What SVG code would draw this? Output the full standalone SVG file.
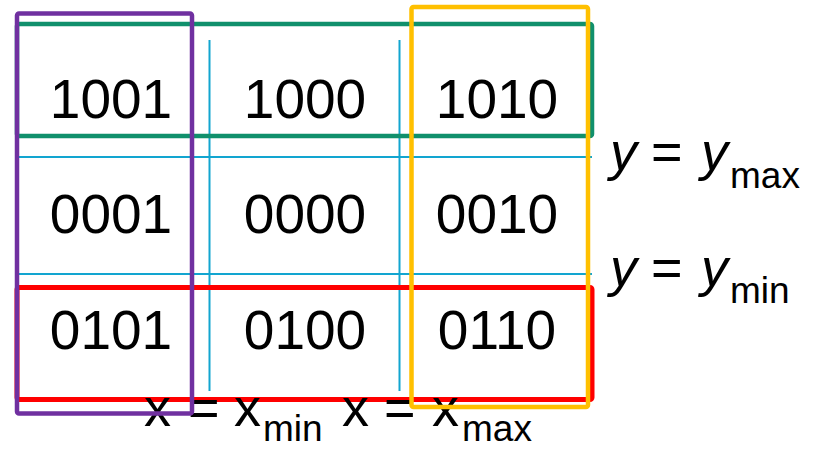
<svg xmlns="http://www.w3.org/2000/svg" width="817" height="449" viewBox="0 0 817 449">
<style>
.code{font-family:"Liberation Sans",Arial,sans-serif;font-size:55px;fill:#000;text-anchor:middle}
.lbl{font-family:"Liberation Sans",Arial,sans-serif;font-size:54px;fill:#000}
.sub{font-size:37px}
.it{font-style:italic}
.grid{stroke:#12a5d0;stroke-width:2;fill:none}
.box{fill:none;stroke-linejoin:round}
</style>
<rect width="817" height="449" fill="#fff"/>
<g id="grid-lines" class="grid">
<line x1="17" y1="157" x2="592" y2="157"/>
<line x1="17" y1="274" x2="592" y2="274"/>
<line x1="209.5" y1="40" x2="209.5" y2="391"/>
<line x1="399.5" y1="40" x2="399.5" y2="391"/>
</g>
<g id="region-top">
<rect class="box" x="17" y="24" width="575" height="112" rx="2" stroke="#10906c" stroke-width="4.5"/>
</g>
<g id="region-bottom">
<rect class="box" x="17" y="287.5" width="575" height="112" rx="2" stroke="#ff0000" stroke-width="5"/>
</g>
<g id="cell-1001"><text class="code" x="111" y="118">1001</text></g>
<g id="cell-1000"><text class="code" x="305" y="118">1000</text></g>
<g id="cell-1010"><text class="code" x="497" y="118">1010</text></g>
<g id="cell-0001"><text class="code" x="111" y="233">0001</text></g>
<g id="cell-0000"><text class="code" x="305" y="233">0000</text></g>
<g id="cell-0010"><text class="code" x="497" y="233">0010</text></g>
<g id="cell-0101"><text class="code" x="111" y="349">0101</text></g>
<g id="cell-0100"><text class="code" x="305" y="349">0100</text></g>
<g id="cell-0110"><text class="code" x="497" y="349">0110</text></g>
<g id="label-ymax">
<text class="lbl"><tspan class="it" x="610" y="170">y</tspan><tspan x="651" y="170">=</tspan><tspan class="it" x="701" y="170">y</tspan><tspan class="sub" x="730" y="188">max</tspan></text>
</g>
<g id="label-ymin">
<text class="lbl"><tspan class="it" x="610" y="286">y</tspan><tspan x="651" y="286">=</tspan><tspan class="it" x="701" y="286">y</tspan><tspan class="sub" x="730" y="303">min</tspan></text>
</g>
<g id="label-xmin">
<text class="lbl"><tspan x="144" y="426">x</tspan><tspan x="188" y="426">=</tspan><tspan x="234" y="426">x</tspan><tspan class="sub" x="263" y="441">min</tspan></text>
</g>
<g id="label-xmax">
<text class="lbl"><tspan x="342" y="426">x</tspan><tspan x="384" y="426">=</tspan><tspan x="432" y="426">x</tspan><tspan class="sub" x="462" y="441">max</tspan></text>
</g>
<g id="region-left">
<rect class="box" x="17" y="13.5" width="175" height="400" rx="2" stroke="#7030a0" stroke-width="4.5"/>
</g>
<g id="region-right">
<rect class="box" x="411.5" y="7" width="176.5" height="400" rx="2" stroke="#ffc000" stroke-width="4.5"/>
</g>
</svg>
